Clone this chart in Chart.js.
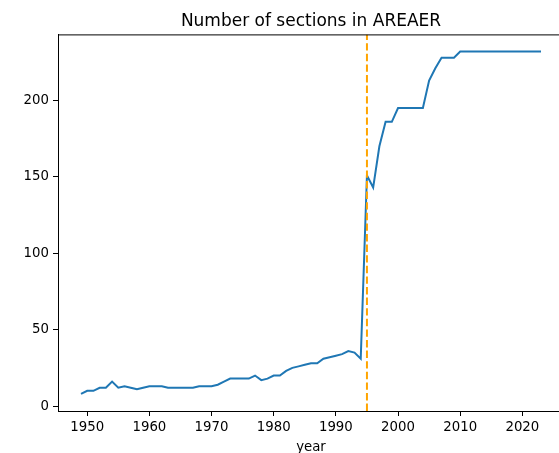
<!DOCTYPE html>
<html>
<head>
<meta charset="utf-8">
<script src="https://cdn.jsdelivr.net/npm/chart.js@4"></script>
<style>
html,body{margin:0;padding:0;background:#fff;overflow:hidden;}
#wrap{width:570px;height:453px;}
</style>
</head>
<body>
<div id="wrap"><canvas id="c" width="570" height="453"></canvas></div>
<script>
const years = [1949,1950,1951,1952,1953,1954,1955,1956,1957,1958,1959,1960,1961,1962,1963,1964,1965,1966,1967,1968,1969,1970,1971,1972,1973,1974,1975,1976,1977,1978,1979,1980,1981,1982,1983,1984,1985,1986,1987,1988,1989,1990,1991,1992,1993,1994,1995,1996,1997,1998,1999,2000,2001,2002,2003,2004,2005,2006,2007,2008,2009,2010,2011,2012,2013,2014,2015,2016,2017,2018,2019,2020,2021,2022,2023];
const sections = [8,10,10,12,12,16,12,13,12,11,12,13,13,13,12,12,12,12,12,13,13,13,14,16,18,18,18,18,20,17,18,20,20,23,25,26,27,28,28,31,32,33,34,36,35,31,151,143,170,186,186,195,195,195,195,195,213,221,228,228,228,232,232,232,232,232,232,232,232,232,232,232,232,232,232];
const markerYear = 1995;
const xTicks = [1950,1960,1970,1980,1990,2000,2010,2020];
const yTicks = [0,50,100,150,200];
const titleText = 'Number of sections in AREAER';
const xLabel = 'year';

const xMin = 1945.3, xMax = 2026.7, yMin = -3.2, yMax = 243.2;
const FONT = 'DejaVu Sans';

new Chart(document.getElementById('c'), {
  type: 'line',
  data: {
    datasets: [
      {
        data: [{x: markerYear, y: yMin}, {x: markerYear, y: yMax}],
        borderColor: '#ffa500',
        borderWidth: 2,
        borderDash: [7.4, 3.2],
        pointRadius: 0,
        order: 0
      },
      {
        data: years.map((y, i) => ({x: y, y: sections[i]})),
        borderColor: '#1f77b4',
        borderWidth: 2,
        pointRadius: 0,
        tension: 0,
        order: 1
      }
    ]
  },
  options: {
    responsive: false,
    animation: false,
    events: [],
    layout: {padding: {left: 0, right: 6, top: 0, bottom: 0}},
    plugins: {
      legend: {display: false},
      tooltip: {enabled: false},
      title: {
        display: true,
        fullSize: false,
        text: titleText,
        color: '#000',
        font: {family: FONT, size: 17, weight: 'normal', lineHeight: 1.2},
        padding: {top: 11, bottom: 3}
      }
    },
    scales: {
      x: {
        type: 'linear',
        min: xMin, max: xMax,
        afterBuildTicks: s => { s.ticks = xTicks.map(v => ({value: v})); },
        afterFit: s => { s.height = 42; },
        ticks: {color: '#000', font: {family: FONT, size: 13.3}, padding: 4, maxRotation: 0, autoSkip: false,
                callback: v => String(v)},
        grid: {display: true, drawOnChartArea: false, drawTicks: true, tickLength: 5, color: '#000', lineWidth: 1},
        border: {display: true, color: '#000', width: 1},
        title: {display: true, text: xLabel, color: '#000', font: {family: FONT, size: 13.3}, padding: {top: 0, bottom: -3}}
      },
      y: {
        type: 'linear',
        min: yMin, max: yMax,
        afterBuildTicks: s => { s.ticks = yTicks.map(v => ({value: v})); },
        afterFit: s => { s.width = 58; },
        ticks: {color: '#000', font: {family: FONT, size: 13.3}, padding: 4, autoSkip: false,
                callback: v => String(v)},
        grid: {display: true, drawOnChartArea: false, drawTicks: true, tickLength: 5, color: '#000', lineWidth: 1},
        border: {display: true, color: '#000', width: 1}
      }
    }
  },
  plugins: [{
    id: 'topBorder',
    afterDraw(chart) {
      const a = chart.chartArea, ctx = chart.ctx;
      ctx.save();
      ctx.strokeStyle = '#000';
      ctx.lineWidth = 1;
      ctx.beginPath();
      ctx.moveTo(a.left, a.top + 0.5);
      ctx.lineTo(a.right, a.top + 0.5);
      ctx.moveTo(a.right - 0.5, a.top);
      ctx.lineTo(a.right - 0.5, a.bottom);
      ctx.stroke();
      ctx.restore();
    }
  }]
});
</script>
</body>
</html>
